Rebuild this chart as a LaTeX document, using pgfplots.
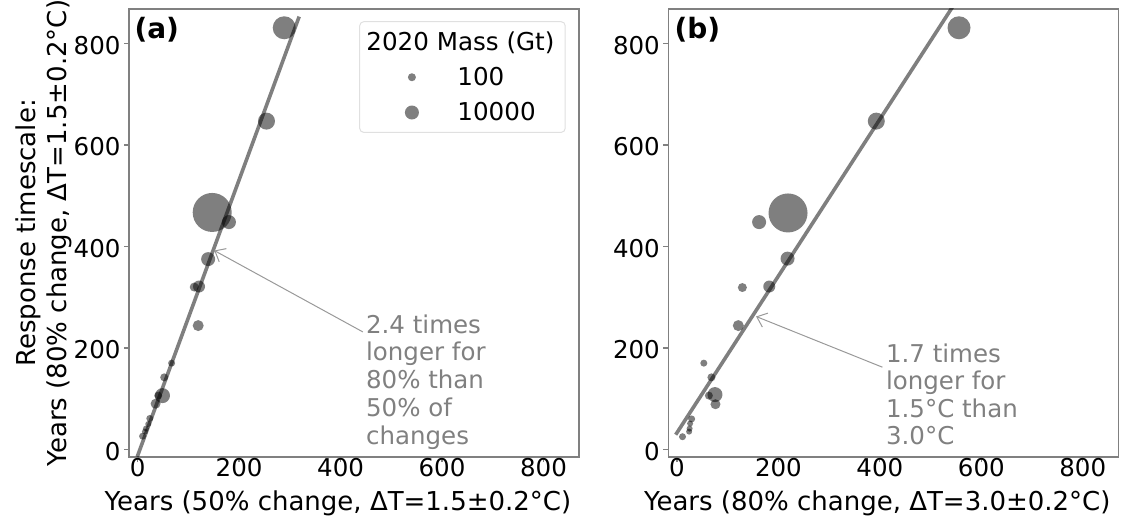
\documentclass[border=0pt]{standalone}
\usepackage{fontspec}
\setmainfont{DejaVu Sans}
\usepackage{pgfplots}
\usepackage{pgfplotstable}
\pgfplotsset{compat=1.18}
\usetikzlibrary{arrows.meta}

\pgfplotstableread{
x y d
289 831 23
254 647 17
147 467 39
180 448 14
139 375 14
121 321 12
111.6 320 9
119.4 244 11
67 170 7
52.4 142 8
49 106 15
40.6 106 8
35.4 90 10
24 61 7
21 50 6
16.4 41 6
14.4 35 6
9.8 26 7
}\leftdata

\pgfplotstableread{
x y d
556 831 23
393 647 17
219 466 39
162 448 14
218 376 14
182 321 12
129 319 9
121 244 11
53 170 7
68 142 8
75 108 15
63 106 8
76 89 10
29 60 7
26 51 6
25 41 6
24 35 6
11 25 7
}\rightdata

\pgfplotsset{
 panel/.style={
  scale only axis, width=450pt, height=448pt,
  xmin=-17, xmax=870, ymin=-15, ymax=868,
  xtick={0,200,400,600,800}, ytick={0,200,400,600,800},
  tick align=outside, tick pos=left, major tick length=5pt,
  axis line style={draw=black!50, line width=1.2pt},
  every tick/.style={draw=black!50, line width=1.2pt},
  tick label style={font=\fontsize{24.5}{28}\selectfont},
  xticklabel style={inner sep=0pt, yshift=3.5pt},
  yticklabel style={yshift=-2pt},
  /pgf/number format/assume math mode=true,
  label style={font=\fontsize{26}{31}\selectfont},
  xlabel style={at={(rel axis cs:0.5,0)}, anchor=base, inner sep=0pt, yshift=-53pt, xshift=-16pt},
 },
 bubble/.style={scatter, only marks, mark=*,
   scatter/use mapped color={draw opacity=0, fill=black, fill opacity=0.5},
   visualization depends on={\thisrow{d}/2 \as \rad},
   scatter/@pre marker code/.append style={/tikz/mark size=\rad},
   forget plot,
 },
 fitline/.style={no marks, black, opacity=0.5, line width=3.6pt, forget plot},
 legmark/.style={only marks, mark=*, mark options={fill=black, fill opacity=0.5, draw opacity=0},
   legend image code/.code={\path (-43pt,0pt) (43pt,0pt); \draw[##1] plot coordinates {(0pt,0pt)};}},
}

\begin{document}
\begin{tikzpicture}
\begin{axis}[panel, at={(129pt,62pt)}, anchor=south west,
  xlabel={Years (50\% change, ΔT=1.5±0.2°C)},
  ylabel={Response timescale:\\Years (80\% change, ΔT=1.5±0.2°C)},
  ylabel style={align=center, at={(rel axis cs:-0.1256,0.5)}, anchor=south, inner sep=0pt},
  legend style={at={(rel axis cs:1,1)}, anchor=north east, xshift=-13.3pt, yshift=-12.2pt,
    draw=black!12, line width=1pt, rounded corners=4pt, fill=white,
    inner xsep=8.7pt, inner ysep=8pt, row sep=11.5pt,
    font=\fontsize{24.6}{29}\selectfont,
    nodes={inner sep=2pt, text depth=0.15em}, cells={anchor=west}},
]
\addplot[bubble] table[x=x,y=y] {\leftdata};
\addplot[fitline] coordinates {(-0.8,-14.6) (318.4,853)};
\addlegendimage{empty legend}
\addlegendentry{\hspace*{-91pt}2020 Mass (Gt)}
\addlegendimage{legmark, mark size=4pt}
\addlegendentry{100}
\addlegendimage{legmark, mark size=7pt}
\addlegendentry{10000}
\draw[black!40, line width=1pt, -{Straight Barb[length=9pt,width=15pt]}] (axis cs:444,231.5) -- (axis cs:151,392);
\node[anchor=north west, inner sep=0pt, align=left, text=black!50, font=\fontsize{24.5}{27.75}\selectfont] at (axis cs:450,266) {2.4 times\\longer for\\80\% than\\50\% of\\changes};
\node[anchor=north west, inner sep=0pt, font=\bfseries\fontsize{28}{30}\selectfont] at (rel axis cs:0,1) [xshift=5.3pt, yshift=-8.2pt] {(a)};
\end{axis}

\begin{axis}[panel, at={(668.3pt,62pt)}, anchor=south west,
  xlabel={Years (80\% change, ΔT=3.0±0.2°C)},
]
\addplot[bubble] table[x=x,y=y] {\rightdata};
\addplot[fitline] coordinates {(-2.4,29) (560,898)};
\draw[black!40, line width=1pt, -{Straight Barb[length=9pt,width=15pt]}] (axis cs:405,162) -- (axis cs:156,262);
\node[anchor=north west, inner sep=0pt, align=left, text=black!50, font=\fontsize{24.5}{27.5}\selectfont] at (axis cs:411.8,209) {1.7 times\\longer for\\1.5°C than\\3.0°C};
\node[anchor=north west, inner sep=0pt, font=\bfseries\fontsize{28}{30}\selectfont] at (rel axis cs:0,1) [xshift=6pt, yshift=-8.2pt] {(b)};
\end{axis}
\pgfresetboundingbox
\path (0pt,0pt) rectangle (1121pt,519pt);
\end{tikzpicture}
\end{document}
